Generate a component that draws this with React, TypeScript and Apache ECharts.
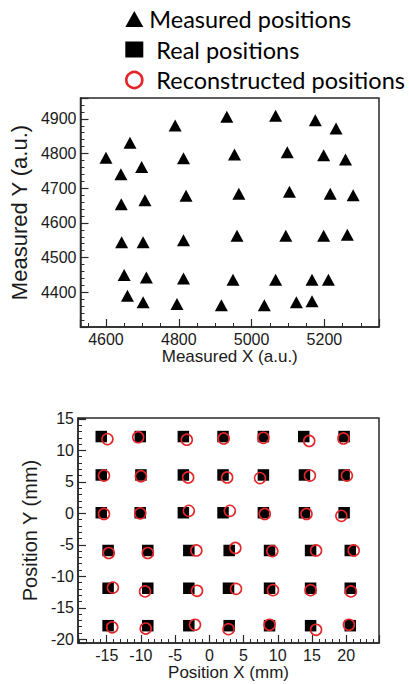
import React, { useEffect, useRef } from "react";
import * as echarts from "echarts";

// ---- Top panel: measured positions (a.u.) ----
const measuredX = [
  4600, 4666, 4641, 4698, 4790, 4813, 4932, 4953, 5066, 5098, 5175, 5232, 5198, 5258,
  4642, 4707, 4820, 4965, 5104, 5216, 5279,
  4643, 4702, 4813, 4960, 5094, 5198, 5263,
  4650, 4711, 4813, 4949, 5066, 5166, 5211,
  4659, 4702, 4795, 4917, 5035, 5123, 5166,
];
const measuredY = [
  4788, 4831, 4740, 4761, 4881, 4786, 4906, 4797, 4909, 4804, 4896, 4872, 4795, 4783,
  4654, 4665, 4678, 4684, 4690, 4684, 4680,
  4544, 4544, 4550, 4563, 4563, 4563, 4566,
  4450, 4443, 4440, 4436, 4436, 4436, 4436,
  4390, 4371, 4366, 4363, 4363, 4371, 4374,
];

// ---- Bottom panel: real and reconstructed positions (mm) ----
const realX = [
  -15.8, -10.1, -3.8, 2.0, 7.9, 13.8, 19.7,
  -15.8, -10.0, -3.8, 2.0, 7.9, 13.9, 19.7,
  -15.8, -10.1, -3.8, 2.0, 7.9, 13.9, 19.7,
  -14.8, -9.0, -3.0, 2.9, 8.8, 14.8, 20.6,
  -14.8, -9.0, -3.0, 2.8, 8.8, 14.8, 20.6,
  -14.8, -9.0, -3.0, 2.9, 8.8, 14.8, 20.6,
];
const realY = [
  12.2, 12.2, 12.2, 12.2, 12.2, 12.2, 12.2,
  6.1, 6.1, 6.1, 6.1, 6.1, 6.1, 6.1,
  0.1, 0.1, 0.1, 0.1, 0.1, 0.1, 0.1,
  -5.9, -5.9, -5.9, -5.9, -5.9, -5.9, -5.9,
  -11.9, -11.9, -11.9, -11.9, -11.9, -11.9, -11.9,
  -17.85, -17.85, -17.85, -17.85, -17.85, -17.85, -17.85,
];
const recoX = [
  -14.9, -10.4, -3.3, 2.1, 7.9, 14.6, 19.6,
  -15.4, -10.0, -3.1, 2.6, 7.4, 14.7, 20.1,
  -15.4, -10.1, -3.0, 3.0, 8.1, 14.2, 19.3,
  -14.7, -9.0, -1.9, 3.8, 9.2, 15.6, 21.1,
  -14.1, -9.4, -1.8, 3.9, 9.3, 14.8, 20.7,
  -14.2, -9.3, -2.1, 2.8, 8.8, 15.6, 20.4,
];
const recoY = [
  11.8, 12.1, 11.7, 11.9, 12.0, 11.5, 11.9,
  6.0, 5.9, 5.7, 5.7, 5.6, 6.0, 6.0,
  -0.1, 0.0, 0.4, 0.4, -0.1, -0.1, -0.4,
  -6.3, -6.3, -5.9, -5.5, -6.0, -5.9, -5.9,
  -11.8, -12.4, -12.3, -12.0, -12.2, -12.2, -12.4,
  -18.1, -18.3, -17.7, -18.4, -17.7, -18.5, -17.7,
];

// ---- Tick labels ----
const topXLabels = [4600, 4800, 5000, 5200];
const topYLabels = [4400, 4500, 4600, 4700, 4800, 4900];
const botXLabels = [-15, -10, -5, 0, 5, 10, 15, 20];
const botYLabels = [-20, -15, -10, -5, 0, 5, 10, 15];

const legendNames = ["Measured positions", "Real positions", "Reconstructed positions"];

const AXIS_COLOR = "#2a2a2a";
const LABEL_COLOR = "#1a1a1a";
const RED = "#e3262a";
const FONT = "Liberation Sans";

function pick(labels: number[]) {
  return (v: number) => {
    const hit = labels.find((l) => Math.abs(l - v) < 1e-6);
    return hit === undefined ? "" : String(hit);
  };
}

function axis(
  gridIndex: number,
  min: number,
  max: number,
  splitNumber: number,
  minorSplit: number,
  labels: number[],
  name: string,
  nameGap: number,
  nameSize: number,
  labelMargin: number
) {
  return {
    type: "value",
    gridIndex,
    min,
    max,
    splitNumber,
    name,
    nameLocation: "middle",
    nameGap,
    nameTextStyle: { fontFamily: FONT, fontSize: nameSize, color: LABEL_COLOR },
    axisLine: { show: true, onZero: false, lineStyle: { color: AXIS_COLOR, width: 1.5 } },
    axisTick: { show: true, inside: true, length: 8, lineStyle: { color: AXIS_COLOR, width: 1.2 } },
    minorTick: {
      show: true,
      splitNumber: minorSplit,
      length: 4,
      lineStyle: { color: AXIS_COLOR, width: 1 },
    },
    splitLine: { show: false },
    minorSplitLine: { show: false },
    axisLabel: {
      show: true,
      margin: labelMargin,
      fontFamily: FONT,
      fontSize: 16,
      color: LABEL_COLOR,
      formatter: pick(labels),
      showMinLabel: true,
      showMaxLabel: true,
    },
  };
}

export default function App() {
  const ref = useRef<HTMLDivElement>(null);
  useEffect(() => {
    const chart = echarts.init(ref.current!, null, { renderer: "svg" });
    const option = {
      animation: false,
      backgroundColor: "#ffffff",
      textStyle: { fontFamily: FONT },
      legend: {
        orient: "vertical",
        left: 120,
        top: 2,
        itemGap: 6.5,
        itemWidth: 18,
        itemHeight: 16,
        selectedMode: false,
        textStyle: { fontFamily: "Lato", fontSize: 23.5, color: "#000", lineHeight: 22 },
        data: [
          { name: legendNames[0], icon: "triangle", textStyle: { padding: [0, 0, 0, 1] } },
          { name: legendNames[1], icon: "rect", textStyle: { padding: [0, 0, 0, 8] } },
          {
            name: legendNames[2],
            icon: "circle",
            itemStyle: { color: "rgba(0,0,0,0)", borderColor: RED, borderWidth: 2.6 },
            textStyle: { padding: [0, 0, 0, 8] },
          },
        ],
      },
      grid: [
        {
          left: 77,
          top: 98,
          width: 302,
          height: 229,
          show: true,
          borderColor: AXIS_COLOR,
          borderWidth: 1.5,
          backgroundColor: "rgba(0,0,0,0)",
        },
        {
          left: 78,
          top: 418,
          width: 301,
          height: 225,
          show: true,
          borderColor: AXIS_COLOR,
          borderWidth: 1.5,
          backgroundColor: "rgba(0,0,0,0)",
        },
      ],
      xAxis: [
        axis(0, 4530, 5350, 5, 4, topXLabels, "Measured X (a.u.)", 21, 17, 4),
        axis(1, -19.2, 24.8, 8, 5, botXLabels, "Position X (mm)", 20, 17, 4),
      ],
      yAxis: [
        axis(0, 4300, 4960, 5, 5, topYLabels, "Measured Y (a.u.)", 47, 22, 4),
        axis(1, -20.6, 15.15, 7, 5, botYLabels, "Position Y (mm)", 32, 20, 4),
      ],
      series: [
        {
          name: legendNames[0],
          type: "scatter",
          xAxisIndex: 0,
          yAxisIndex: 0,
          symbol: "triangle",
          symbolSize: [13, 12],
          itemStyle: { color: "#000", opacity: 1 },
          data: measuredX.map((x, i) => [x, measuredY[i]]),
        },
        {
          name: legendNames[1],
          type: "scatter",
          xAxisIndex: 1,
          yAxisIndex: 1,
          symbol: "rect",
          symbolSize: 11.5,
          itemStyle: { color: "#000", opacity: 1 },
          data: realX.map((x, i) => [x, realY[i]]),
        },
        {
          name: legendNames[2],
          type: "scatter",
          xAxisIndex: 1,
          yAxisIndex: 1,
          symbol: "circle",
          symbolSize: 11,
          itemStyle: { color: "rgba(0,0,0,0)", borderColor: RED, borderWidth: 1.6, opacity: 1 },
          z: 3,
          data: recoX.map((x, i) => [x, recoY[i]]),
        },
      ],
    };
    chart.setOption(option as any);
    return () => chart.dispose();
  }, []);
  return (
    <div
      ref={ref}
      style={{ position: "absolute", left: 0, top: 0, width: 409, height: 684, background: "#fff" }}
    />
  );
}
